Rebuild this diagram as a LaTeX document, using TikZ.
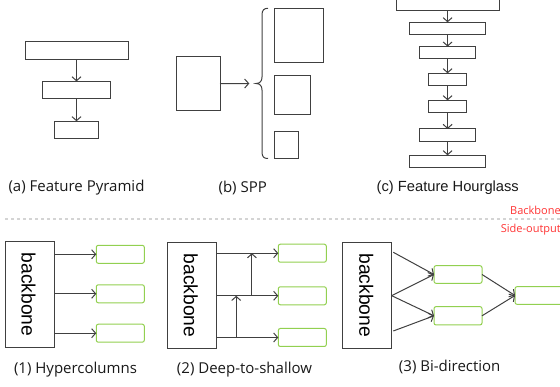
\documentclass[tikz,border=0pt]{standalone}
\usepackage{fontspec}
\setmainfont{Open Sans}
\newfontfamily\arialf{Liberation Sans}
\usetikzlibrary{arrows.meta}
\definecolor{lncol}{HTML}{404040}
\definecolor{grn}{HTML}{92D050}
\definecolor{redt}{HTML}{FF3333}
\definecolor{dashg}{HTML}{D4D4D4}
\tikzset{
  box/.style={draw=lncol, line width=1pt, inner sep=0pt, outer sep=0pt},
  gbox/.style={draw=grn, line width=1pt, rounded corners=2pt, inner sep=0pt, outer sep=0pt, minimum width=48pt, minimum height=18pt},
  bbox/.style={box, minimum width=49pt, minimum height=105.6pt},
  bbtext/.style={font=\arialf\fontsize{19.3}{19}\selectfont, rotate=-90, inner sep=0pt},
  arr/.style={draw=lncol, line width=1pt, -{Straight Barb[length=4pt,width=9pt,line width=1pt]}},
  captxt/.style={font=\fontsize{15}{16}\selectfont, inner sep=0pt, text=black!90},
  redlab/.style={font=\fontsize{11}{12}\selectfont, text=redt, inner sep=0pt, anchor=west}
}
\begin{document}
\begin{tikzpicture}[x=1pt, y=-1pt]
\useasboundingbox (0,0) rectangle (560,387);
% (a) Feature Pyramid
\node[box, minimum width=103pt, minimum height=17.6pt] (a1) at (76.5,50.5) {};
\node[box, minimum width=68.4pt, minimum height=17.6pt] (a2) at (76.5,90.2) {};
\node[box, minimum width=44.4pt, minimum height=17.4pt] (a3) at (76.5,130) {};
\draw[arr] (a1.south) -- (a2.north);
\draw[arr] (a2.south) -- (a3.north);
\node[captxt] (la) at (76.5,188) {(a) Feature Pyramid};
% (b) SPP
\node[box, minimum width=44pt, minimum height=54pt] (b0) at (198,83.7) {};
\coordinate (bt) at (249.3,83.5);
\draw[arr] (b0.east) -- (bt);
\draw[lncol, line width=1pt] (268,8.3) .. controls (264,8.3) and (262,10) .. (262,15) -- (262,77) .. controls (262,81) and (260,83.5) .. (256,83.5) .. controls (260,83.5) and (262,86) .. (262,90) -- (262,152) .. controls (262,157) and (264,158.5) .. (268,158.5);
\node[box, minimum width=49pt, minimum height=54.4pt] (b1) at (298.8,35.5) {};
\node[box, minimum width=36pt, minimum height=39.4pt] (b2) at (292.3,95) {};
\node[box, minimum width=24.4pt, minimum height=26.7pt] (b3) at (286.5,145.3) {};
\node[captxt] (lb) at (242.7,188) {(b) SPP};
% (c) Feature Hourglass
\node[box, minimum width=103pt, minimum height=12.7pt] (c1) at (447.6,4.4) {};
\node[box, minimum width=76.7pt, minimum height=12.4pt] (c2) at (447.6,28.5) {};
\node[box, minimum width=56.7pt, minimum height=12.2pt] (c3) at (447.6,52.7) {};
\node[box, minimum width=37.7pt, minimum height=12.4pt] (c4) at (447.6,79.5) {};
\node[box, minimum width=37.7pt, minimum height=12.4pt] (c5) at (447.6,106.5) {};
\node[box, minimum width=56.7pt, minimum height=12.4pt] (c6) at (447.6,135.2) {};
\node[box, minimum width=76.7pt, minimum height=12.4pt] (c7) at (447.6,161.5) {};
\foreach \p/\q in {c1/c2,c2/c3,c3/c4,c4/c5,c5/c6,c6/c7} \draw[arr] (\p.south) -- (\q.north);
\node[captxt, font=\arialf\fontsize{14.7}{16}\selectfont] (lc) at (447.8,188) {(c) Feature Hourglass};
% separator
\coordinate (d1) at (5,219);
\coordinate (d2) at (560,219);
\draw[dashg, line width=1.2pt, dash pattern=on 3pt off 3pt] (d1) -- (d2);
\node[redlab] (rb) at (510,210) {Backbone};
\node[redlab] (rs) at (500.7,229.5) {Side-output};
% (1) Hypercolumns
\node[bbox] (bb1) at (29.5,294.5) {};
\node[bbtext] (bt1) at (28.5,294.5) {backbone};
\node[gbox] (g11) at (120.3,254.3) {};
\node[gbox] (g12) at (120.3,293.8) {};
\node[gbox] (g13) at (120.3,333.2) {};
\foreach \g in {g11,g12,g13} \draw[arr] (\g.west -| bb1.east) -- (\g.west);
\node[captxt] (l1) at (75.5,370) {(1) Hypercolumns};
% (2) Deep-to-shallow
\node[bbox] (bb2) at (191.7,295.5) {};
\node[bbtext] (bt2) at (190.7,295.5) {backbone};
\node[gbox] (g21) at (302.3,253.2) {};
\node[gbox] (g22) at (302.3,295.8) {};
\node[gbox] (g23) at (302.3,337.5) {};
\foreach \g in {g21,g22,g23} \draw[arr] (\g.west -| bb2.east) -- (\g.west);
\draw[arr] ([xshift=20pt]bb2.east |- g23.west) -- ([xshift=20pt]bb2.east |- g22.west);
\draw[arr] ([xshift=35.7pt]bb2.east |- g22.west) -- ([xshift=35.7pt]bb2.east |- g21.west);
\node[captxt] (l2) at (244.5,370) {(2) Deep-to-shallow};
% (3) Bi-direction
\node[bbox, minimum height=106pt] (bb3) at (367.2,295.3) {};
\node[bbtext] (bt3) at (366.2,295.3) {backbone};
\node[gbox, minimum height=17.6pt] (g31) at (458,274.5) {};
\node[gbox, minimum height=18.3pt] (g32) at (458,315.8) {};
\node[gbox, minimum height=17.6pt] (g33) at (539,295.5) {};
\coordinate (s1) at (393.3,252.3);
\coordinate (s2) at (391.7,295.7);
\coordinate (s3) at (393.3,331);
\draw[arr] (s1) -- (g31.west);
\draw[arr] (s2) -- (g31.west);
\draw[arr] (s2) -- (g32.west);
\draw[arr] (s3) -- (g32.west);
\draw[arr] (g31.east) -- (g33.west);
\draw[arr] (g32.east) -- (g33.west);
\node[captxt] (l3) at (449.7,367) {(3) Bi-direction};
\end{tikzpicture}
\end{document}
